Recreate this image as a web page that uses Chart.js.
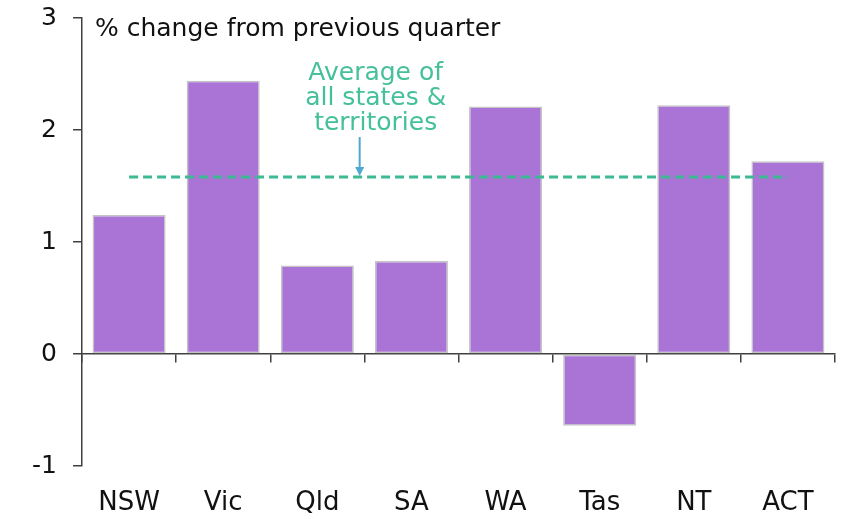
<!DOCTYPE html>
<html>
<head>
<meta charset="utf-8">
<script src="https://cdn.jsdelivr.net/npm/chart.js@4.4.1/dist/chart.umd.min.js"></script>
<style>
  html, body { margin: 0; padding: 0; background: #ffffff; }
  #wrap { width: 848px; height: 519px; }
</style>
</head>
<body>
<div id="wrap"><canvas id="c" width="848" height="519"></canvas></div>
<script>
const categories = ['NSW', 'Vic', 'Qld', 'SA', 'WA', 'Tas', 'NT', 'ACT'];
const growth = [1.24, 2.44, 0.79, 0.83, 2.21, -0.64, 2.22, 1.72];
const averageLine = [1.58, 1.58, 1.58, 1.58, 1.58, 1.58, 1.58, 1.58];
const yTicks = [-1, 0, 1, 2, 3];
const titleText = '% change from previous quarter';
const noteLines = ['Average of', 'all states &', 'territories'];

const FONT = '"DejaVu Sans", sans-serif';
const AXIS = '#404040';
const TEAL = '#3db993';

const overlay = {
  id: 'overlay',
  afterDatasetsDraw(chart) {
    const ctx = chart.ctx;
    const x = chart.scales.x, y = chart.scales.y;
    ctx.save();
    ctx.font = '25px ' + FONT;
    ctx.fillStyle = '#111';
    ctx.textAlign = 'left';
    ctx.textBaseline = 'alphabetic';
    ctx.fillText(titleText, chart.chartArea.left + 13, y.getPixelForValue(3) + 18);
    const avgY = y.getPixelForValue(averageLine[0]);
    const tx = x.getPixelForValue(2.62);
    ctx.fillStyle = '#45c09a';
    ctx.textAlign = 'center';
    noteLines.forEach((t, i) => ctx.fillText(t, tx, avgY - 97 + i * 25));
    const ax = x.getPixelForValue(2.45);
    ctx.strokeStyle = '#4ea8cf';
    ctx.fillStyle = '#4ea8cf';
    ctx.lineWidth = 2;
    ctx.beginPath();
    ctx.moveTo(ax, avgY - 40);
    ctx.lineTo(ax, avgY - 8);
    ctx.stroke();
    ctx.beginPath();
    ctx.moveTo(ax - 4.5, avgY - 10);
    ctx.lineTo(ax + 4.5, avgY - 10);
    ctx.lineTo(ax, avgY - 1);
    ctx.closePath();
    ctx.fill();
    ctx.restore();
  }
};

new Chart(document.getElementById('c'), {
  data: {
    labels: categories,
    datasets: [
      {
        type: 'line',
        data: averageLine,
        borderColor: TEAL,
        borderWidth: 3,
        borderDash: [9, 5],
        pointRadius: 0,
        fill: false,
        order: 0,
        xAxisID: 'x'
      },
      {
        type: 'bar',
        data: growth,
        backgroundColor: '#a974d6',
        borderColor: '#c4c4c4',
        borderWidth: 1.5,
        borderSkipped: false,
        barPercentage: 0.776,
        categoryPercentage: 1,
        order: 1,
        xAxisID: 'x'
      }
    ]
  },
  options: {
    responsive: false,
    animation: false,
    devicePixelRatio: 1,
    layout: { padding: { left: 0, right: 13, top: 18, bottom: 0 } },
    plugins: { legend: { display: false }, tooltip: { enabled: false } },
    scales: {
      x: {
        type: 'category',
        position: 'bottom',
        offset: true,
        grid: { display: false, drawTicks: false, tickLength: 0 },
        border: { display: false },
        ticks: { font: { family: FONT, size: 26 }, color: '#111', padding: 22, maxRotation: 0 },
        afterFit(s) { s.height = 519 - 466; s.paddingLeft = 0; s.paddingRight = 0; }
      },
      x2: {
        type: 'category',
        position: { y: 0 },
        offset: true,
        grid: { display: true, drawOnChartArea: false, drawTicks: true, tickLength: 8, color: AXIS, lineWidth: 1.5, offset: true },
        border: { display: true, color: AXIS, width: 1.5 },
        ticks: { display: false },
        afterFit(s) { s.paddingLeft = 0; s.paddingRight = 0; s.paddingTop = 0; s.paddingBottom = 0; }
      },
      y: {
        type: 'linear',
        position: 'left',
        min: -1,
        max: 3,
        afterBuildTicks(s) { s.ticks = yTicks.map(v => ({ value: v })); },
        grid: { display: true, drawOnChartArea: false, drawTicks: true, tickLength: 9, color: AXIS, lineWidth: 1.5 },
        border: { display: true, color: AXIS, width: 1.5 },
        ticks: { font: { family: FONT, size: 25 }, color: '#111', padding: 16 },
        afterFit(s) { s.width = 82; s.paddingTop = 0; s.paddingBottom = 0; }
      }
    }
  },
  plugins: [overlay]
});
</script>
</body>
</html>
